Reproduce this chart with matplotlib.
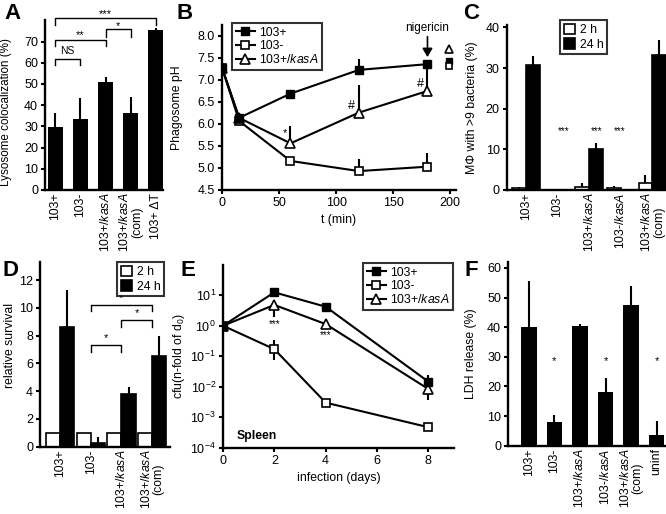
import matplotlib
matplotlib.use("Agg")
import matplotlib.pyplot as plt  # noqa: E402
import numpy as np  # noqa: E402
from matplotlib.ticker import NullLocator  # noqa: E402

plt.rcParams["font.family"] = ["Liberation Sans", "DejaVu Sans"]
plt.rcParams["mathtext.fontset"] = "custom"
plt.rcParams["mathtext.rm"] = "Liberation Sans"
plt.rcParams["mathtext.it"] = "Liberation Sans:italic"
plt.rcParams["font.size"] = 8.5
plt.rcParams["axes.linewidth"] = 1.7

W, H = 666, 514

# --- A: lysosome colocalization ---
a_labels = ["103+", "103-", "103+/$\\it{kasA}$", "103+/$\\it{kasA}$\n(com)", "103+ ΔT"]
a_vals = [29.5, 33.5, 51, 36.5, 75.5]
a_err = [7, 10, 2.5, 7.5, 1]

# --- B: phagosome pH ---
b_t = [0, 15, 60, 120, 180]
b_pos = [7.28, 6.14, 6.69, 7.23, 7.36]
b_pos_err = [0, 0.12, 0, 0.25, 0]
b_neg = [7.28, 6.07, 5.16, 4.93, 5.03]
b_neg_err = [0, 0, 0, 0.27, 0.32]
b_kas = [7.28, 6.14, 5.56, 6.26, 6.75]
b_kas_err = [0, 0, 0.4, 0.62, 0.6]
b_nig_t = 199
b_nig_pos = 7.44
b_nig_neg = 7.31
b_nig_kas = 7.70

# --- C: macrophages with >9 bacteria ---
c_labels = ["103+", "103-", "103+/$\\it{kasA}$", "103-/$\\it{kasA}$", "103+/$\\it{kasA}$\n(com)"]
c_2h = [0.5, 0, 0.7, 0.6, 1.7]
c_2h_err = [0.2, 0, 0.9, 0.3, 1.9]
c_24h = [30.7, 0, 10.2, 0, 33.3]
c_24h_err = [2.3, 0, 1.3, 0, 3.5]

# --- D: relative survival ---
d_labels = ["103+", "103-", "103+/$\\it{kasA}$", "103+/$\\it{kasA}$\n(com)"]
d_2h = [1, 1, 1, 1]
d_24h = [8.6, 0.3, 3.8, 6.5]
d_24h_err = [2.7, 0.4, 0.5, 1.5]

# --- E: spleen cfu ---
e_days = [0, 2, 4, 8]
e_pos = [1.0, 12.4, 4.2, 0.0146]
e_pos_up = [0, 0, 0.8, 0.009]
e_neg = [1.0, 0.17, 0.003, 4.7e-4]
e_neg_lo = [0, 0.095, 0, 0]
e_neg_up = [0, 0.17, 0, 0]
e_kas = [1.0, 4.8, 1.13, 0.0084]
e_kas_lo = [0, 2.8, 0.2, 0.0048]

# --- F: LDH release ---
f_labels = ["103+", "103-", "103+/$\\it{kasA}$", "103-/$\\it{kasA}$", "103+/$\\it{kasA}$\n(com)", "uninf"]
f_vals = [40, 8, 40.3, 18, 47.5, 3.7]
f_err = [15.5, 2.5, 0.8, 5, 6.5, 4.6]

fig = plt.figure(figsize=(W / 100, H / 100), dpi=100)


def ax_px(left, top, right, bottom):
    ax = fig.add_axes([left / W, 1 - bottom / H, (right - left) / W, (bottom - top) / H])
    ax.spines["top"].set_visible(False)
    ax.spines["right"].set_visible(False)
    ax.tick_params(direction="out", length=3, width=1.5, labelsize=9, pad=2)
    ax.patch.set_alpha(0)
    return ax


def ylab(ax, text, xpx, left, width, ypos=0.5, fs=8.8):
    ax.set_ylabel(text, fontsize=fs)
    ax.yaxis.set_label_coords((xpx - left) / width, ypos)


def letter(x, y, s):
    fig.text(x / W, 1 - y / H, s, fontsize=16, fontweight="bold", va="top", ha="left")


def bracket(ax, x0, x1, ytop, yleg, star, ystar, fs=8):
    ax.plot([x0, x0, x1, x1], [yleg, ytop, ytop, yleg], color="k", lw=1, clip_on=False)
    ax.text((x0 + x1) / 2, ystar, star, ha="center", va="center", fontsize=fs, clip_on=False)


def frame(leg):
    leg.get_frame().set_edgecolor("k")
    leg.get_frame().set_linewidth(1.5)


def xlabels(ax, labels):
    ax.set_xticks(range(len(labels)))
    ax.set_xticklabels(labels, rotation=90, fontsize=8.8, linespacing=1.0)
    ax.tick_params(axis="x", length=0)


# ---------------- A ----------------
ax = ax_px(45, 20.4, 163, 190)
x = np.arange(len(a_vals))
ax.bar(x, a_vals, width=0.6, color="k",
       yerr=[np.zeros(len(a_err)), a_err], error_kw=dict(ecolor="k", elinewidth=1.5, capsize=0))
ax.set_xlim(-0.4, 4.28)
ax.set_ylim(0, 80)
ax.set_yticks(range(0, 80, 10))
xlabels(ax, a_labels)
ylab(ax, "Lysosome colocalization (%)", 12, 45, 118, ypos=0.46, fs=8.4)
bracket(ax, 0, 1, 62, 59, "NS", 65.5, fs=7.5)
bracket(ax, 0, 2, 70.8, 68, "**", 73)
bracket(ax, 2, 3, 75.8, 72.3, "*", 77.5)
bracket(ax, 0, 4, 81, 77.8, "***", 83)
letter(4, 3, "A")

# ---------------- B ----------------
ax = ax_px(222, 25, 456, 190)
ax.plot(b_t, b_pos, "-s", color="k", lw=1.5, ms=6, mfc="k", mec="k", label="103+", zorder=4)
ax.plot(b_t, b_neg, "-s", color="k", lw=1.5, ms=6, mfc="w", mec="k", mew=1.2, label="103-", zorder=3)
ax.plot(b_t, b_kas, "-^", color="k", lw=1.5, ms=6.5, mfc="w", mec="k", mew=1.2,
        label="103+/$\\it{kasA}$", zorder=3)
for ys, es in [(b_pos, b_pos_err), (b_neg, b_neg_err), (b_kas, b_kas_err)]:
    ax.errorbar(b_t, ys, yerr=[np.zeros(len(es)), es], fmt="none", ecolor="k", elinewidth=1.5,
                capsize=0, zorder=2)
ax.plot([b_nig_t], [b_nig_pos], "s", color="k", ms=5, clip_on=False, zorder=3)
ax.plot([b_nig_t], [b_nig_neg], "s", mfc="w", mec="k", mew=1.2, ms=5, clip_on=False, zorder=4)
ax.plot([b_nig_t], [b_nig_kas], "^", mfc="w", mec="k", mew=1.2, ms=5.5, clip_on=False, zorder=4)
ax.annotate("nigericin", xy=(180, 7.52), xytext=(180, 8.05), ha="center", va="bottom",
            fontsize=8.5, annotation_clip=False,
            arrowprops=dict(arrowstyle="-|>,head_width=0.35,head_length=0.6", color="k", lw=1.2,
                            shrinkA=0, shrinkB=0))
ax.text(55, 5.8, "*", ha="center", va="center", fontsize=8)
ax.text(113, 6.42, "#", ha="center", va="center", fontsize=9)
ax.text(174, 6.9, "#", ha="center", va="center", fontsize=9)
ax.set_xlim(0, 205)
ax.set_ylim(4.5, 8.25)
ax.set_xticks(range(0, 201, 50))
ax.set_yticks(np.arange(4.5, 8.01, 0.5))
ax.set_yticklabels([f"{v:.1f}" for v in np.arange(4.5, 8.01, 0.5)])
ax.set_xlabel("t (min)", fontsize=8.8, labelpad=4)
ylab(ax, "Phagosome pH", 183, 222, 234)
leg = ax.legend(loc="upper left", bbox_to_anchor=(232 / W, 1 - 23 / H), bbox_transform=fig.transFigure,
                borderaxespad=0, fancybox=False, fontsize=8.8, handlelength=1.6, handletextpad=0.3,
                labelspacing=0.1, borderpad=0.3)
frame(leg)
letter(176, 3, "B")

# ---------------- C ----------------
ax = ax_px(506.7, 25, 666, 190)
x = np.arange(len(c_2h))
bw = 0.44
ax.bar(x - bw / 2, c_2h, width=bw, color="w", edgecolor="k", lw=1.2, label="2 h",
       yerr=[np.zeros(len(x)), c_2h_err], error_kw=dict(ecolor="k", elinewidth=1.5, capsize=0))
ax.bar(x + bw / 2, c_24h, width=bw, color="k", edgecolor="k", lw=1.2, label="24 h",
       yerr=[np.zeros(len(x)), c_24h_err], error_kw=dict(ecolor="k", elinewidth=1.5, capsize=0))
ax.set_xlim(-0.61, 4.43)
ax.set_ylim(0, 40.6)
ax.set_yticks(range(0, 41, 10))
xlabels(ax, c_labels)
for xs in [1.2, 2.25, 2.95]:
    ax.text(xs, 14.6, "***", ha="center", va="center", fontsize=7)
ylab(ax, "MΦ with >9 bacteria (%)", 478, 506.7, 159.3)
leg = ax.legend(loc="upper left", bbox_to_anchor=(560 / W, 1 - 20 / H), bbox_transform=fig.transFigure,
                borderaxespad=0, fancybox=False, fontsize=8.8, handlelength=0.9, handleheight=0.9,
                handletextpad=0.4, labelspacing=0.2, borderpad=0.3)
frame(leg)
letter(463, 3, "C")

# ---------------- D ----------------
ax = ax_px(40, 262, 170, 446.7)
x = np.arange(len(d_2h))
bw = 0.46
ax.bar(x - bw / 2, d_2h, width=bw, color="w", edgecolor="k", lw=1.2, label="2 h")
ax.bar(x + bw / 2, d_24h, width=bw, color="k", edgecolor="k", lw=1.2, label="24 h",
       yerr=[np.zeros(len(x)), d_24h_err], error_kw=dict(ecolor="k", elinewidth=1.5, capsize=0))
ax.set_xlim(-0.65, 3.58)
ax.set_ylim(0, 13.3)
ax.set_yticks(range(0, 13, 2))
xlabels(ax, d_labels)
bracket(ax, 1, 2, 7.3, 6.85, "*", 7.8)
bracket(ax, 2, 3, 9.1, 8.65, "*", 9.6)
bracket(ax, 1, 3, 10.2, 9.75, "*", 10.7)
ylab(ax, "relative survival", 16, 40, 130, ypos=0.55)
leg = ax.legend(loc="upper left", bbox_to_anchor=(117 / W, 1 - 262 / H), bbox_transform=fig.transFigure,
                borderaxespad=0, fancybox=False, fontsize=8.8, handlelength=0.9, handleheight=0.9,
                handletextpad=0.4, labelspacing=0.2, borderpad=0.3)
frame(leg)
letter(2, 260, "D")

# ---------------- E ----------------
ax = ax_px(223, 264.7, 454, 447.7)
ax.set_yscale("log")
ax.plot(e_days, e_pos, "-s", color="k", lw=1.5, ms=6, mfc="k", mec="k", label="103+", zorder=4)
ax.plot(e_days, e_neg, "-s", color="k", lw=1.5, ms=6, mfc="w", mec="k", mew=1.2, label="103-", zorder=3)
ax.plot(e_days, e_kas, "-^", color="k", lw=1.5, ms=6.5, mfc="w", mec="k", mew=1.2,
        label="103+/$\\it{kasA}$", zorder=3)
ax.errorbar(e_days, e_pos, yerr=[np.zeros(4), e_pos_up], fmt="none", ecolor="k", elinewidth=1.5, capsize=0)
ax.errorbar(e_days, e_neg, yerr=[e_neg_lo, e_neg_up], fmt="none", ecolor="k", elinewidth=1.5, capsize=0)
ax.errorbar(e_days, e_kas, yerr=[e_kas_lo, np.zeros(4)], fmt="none", ecolor="k", elinewidth=1.5, capsize=0)
ax.text(2, 1.15, "***", ha="center", va="center", fontsize=7)
ax.text(4, 0.5, "***", ha="center", va="center", fontsize=7)
ax.text(0.55, 10 ** -3.6, "Spleen", fontsize=8.8, fontweight="bold", va="center")
ax.set_xlim(0, 9)
ax.set_ylim(1e-4, 1e2)
ax.set_yticks([1e-4, 1e-3, 1e-2, 1e-1, 1, 10])
ax.yaxis.set_minor_locator(NullLocator())
ax.set_xticks(range(0, 9, 2))
ax.set_xlabel("infection (days)", fontsize=8.8, labelpad=4)
ylab(ax, "cfu(n-fold of d$_0$)", 187, 223, 231)
leg = ax.legend(loc="upper left", bbox_to_anchor=(363 / W, 1 - 263 / H), bbox_transform=fig.transFigure,
                borderaxespad=0, fancybox=False, fontsize=8.8, handlelength=1.6, handletextpad=0.3,
                labelspacing=0.1, borderpad=0.3)
frame(leg)
letter(180, 260, "E")

# ---------------- F ----------------
ax = ax_px(508, 262, 666, 445.7)
x = np.arange(len(f_vals))
ax.bar(x, f_vals, width=0.6, color="k",
       yerr=[np.zeros(len(f_err)), f_err], error_kw=dict(ecolor="k", elinewidth=1.5, capsize=0))
for xs in [1, 3, 5]:
    ax.text(xs, 28.4, "*", ha="center", va="center", fontsize=8)
ax.set_xlim(-0.82, 5.37)
ax.set_ylim(0, 62)
ax.set_yticks(range(0, 61, 10))
xlabels(ax, f_labels)
ylab(ax, "LDH release (%)", 477, 508, 158)
letter(465, 260, "F")

fig.savefig("out.png", dpi=100)
